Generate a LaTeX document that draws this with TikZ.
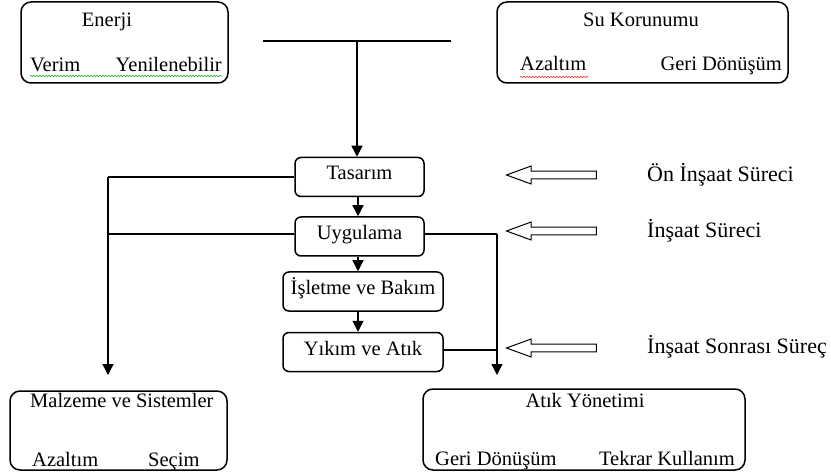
\documentclass[tikz,border=0pt]{standalone}
\usepackage{fontspec}
\setmainfont{Liberation Serif}
\usetikzlibrary{arrows.meta,shapes.arrows,decorations.pathmorphing}
\begin{document}
\begin{tikzpicture}[x=1pt,y=-1pt,
  box/.style={draw, line width=1.5pt, rounded corners=10pt, inner sep=0pt},
  stage/.style={draw, line width=1.5pt, rounded corners=6pt, inner sep=0pt,
    minimum width=129pt, minimum height=39pt, text height=13pt, text depth=7pt,
    font=\fontsize{20.5}{24}\selectfont},
  txt/.style={inner sep=0pt, font=\fontsize{20.5}{24}\selectfont},
  phase/.style={inner sep=0pt, anchor=base west, font=\fontsize{22}{26}\selectfont},
  link/.style={line width=1.3pt},
  arr/.style={link, -{Triangle[width=11pt,length=11pt]}},
  hollow/.style={single arrow, draw, line width=1pt, shape border rotate=180,
    minimum height=90pt, inner xsep=0pt, inner ysep=3.3pt, anchor=tip,
    single arrow head extend=5.2pt, single arrow tip angle=40},
  spell/.style={decorate, decoration={snake, amplitude=0.8pt, segment length=3pt}, line width=0.6pt},
]
\useasboundingbox (0,0) rectangle (831,476);

% upper boxes
\node[box, minimum width=207pt, minimum height=81pt] (enerji) at (124.5,42.5) {};
\node[txt, anchor=base] (enerjiT) at (107,27) {Enerji};
\node[txt, anchor=base west] (verim) at (30,72) {Verim};
\node[txt, anchor=base east] (yenil) at (222,72) {Yenilenebilir};
\draw[spell, green!60!black!80] (30,76) -- (222,76);

\node[box, minimum width=291pt, minimum height=81pt] (su) at (642.5,42.5) {};
\node[txt, anchor=base] (suT) at (641,27) {Su Korunumu};
\node[txt, anchor=base west] (azSu) at (520,71) {Azaltım};
\node[txt, anchor=base east] (geriSu) at (782,71) {Geri Dönüşüm};
\draw[spell, red!80] (520,77) -- (588,77);

% process chain
\node[stage] (tasarim) at (359.5,177) {Tasarım};
\node[stage] (uygulama) at (359.5,236.5) {Uygulama};
\node[stage, minimum width=160pt] (isletme) at (363,291.5) {İşletme ve Bakım};
\node[stage, minimum width=160pt] (yikim) at (363,352) {Yıkım ve Atık};

% lower boxes
\node[box, minimum width=217pt, minimum height=79pt] (malzeme) at (118.5,430.5) {};
\node[txt, anchor=base west] (malzemeT) at (30,407) {Malzeme ve Sistemler};
\node[txt, anchor=base west] (azM) at (32,466) {Azaltım};
\node[txt, anchor=base west] (secim) at (148,466) {Seçim};

\node[box, minimum width=322pt, minimum height=81pt] (atik) at (584,429.5) {};
\node[txt, anchor=base] (atikT) at (585,407) {Atık Yönetimi};
\node[txt, anchor=base west] (geriA) at (435,465) {Geri Dönüşüm};
\node[txt, anchor=base east] (tekrar) at (735,465) {Tekrar Kullanım};

% top bar feeding the chain
\coordinate (barL) at (263,41);
\coordinate (barR) at (451,41);
\coordinate (barM) at (357,41);
\draw[link] (barL) -- (barR);
\draw[arr] (barM) -- (barM |- tasarim.north);

% chain arrows
\draw[arr] (tasarim.south -| 358,0) -- (uygulama.north -| 358,0);
\draw[arr] (uygulama.south -| 358,0) -- (isletme.north -| 358,0);
\draw[arr] (isletme.south -| 358,0) -- (yikim.north -| 358,0);

% left branch to materials
\coordinate (lTop) at (108,177);
\coordinate (lMid) at (108,234);
\coordinate (lEnd) at (108,375);
\draw[link] (tasarim.west) -- (lTop);
\draw[arr] (lTop) -- (lEnd);
\draw[link] (uygulama.west |- lMid) -- (lMid);

% right branch to waste management
\coordinate (rTop) at (497,234);
\coordinate (rMid) at (497,350);
\coordinate (rEnd) at (497,375);
\draw[link] (uygulama.east |- rTop) -- (rTop);
\draw[arr] (rTop) -- (rEnd);
\draw[link] (yikim.east |- rMid) -- (rMid);

% phase markers
\node[hollow] (h1) at (505,175) {};
\node[hollow] (h2) at (505,231) {};
\node[hollow] (h3) at (505,348) {};
\node[phase] (onI) at (647,182) {Ön İnşaat Süreci};
\node[phase] (insI) at (647,237) {İnşaat Süreci};
\node[phase] (sonI) at (647,353) {İnşaat Sonrası Süreç};
\end{tikzpicture}
\end{document}
